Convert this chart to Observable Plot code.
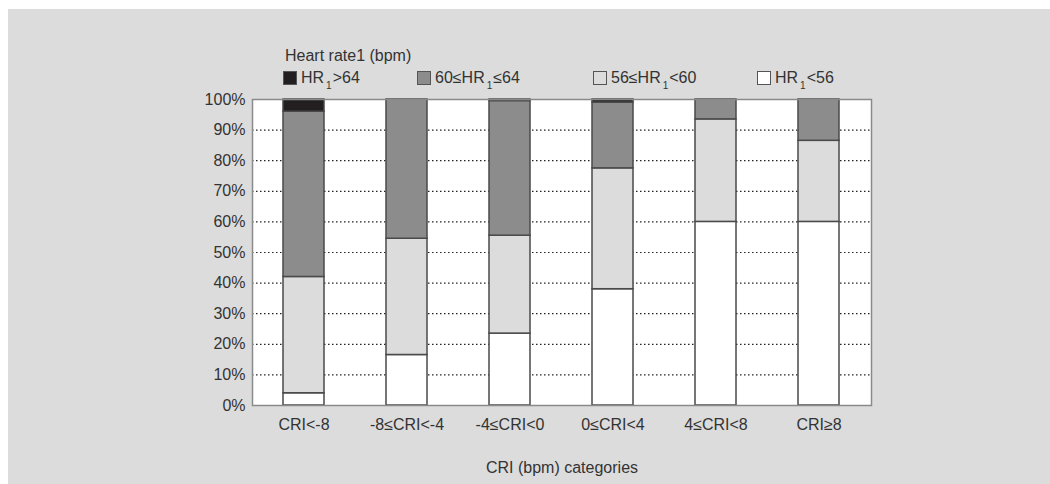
<!DOCTYPE html>
<html>
<head>
<meta charset="utf-8">
<script src="https://cdn.jsdelivr.net/npm/d3@7"></script>
<script src="https://cdn.jsdelivr.net/npm/@observablehq/plot@0.6"></script>
<style>
  html, body { margin: 0; padding: 0; background: #ffffff; }
  body { width: 1050px; height: 484px; position: relative; overflow: hidden;
         font-family: "Liberation Sans", Arial, sans-serif; color: #333; }
  #panel { position: absolute; left: 8px; top: 9px; width: 1042px; height: 475px; background: #dcdcdc; }
  #legend { position: relative; height: 81px; font-size: 16px; }
  #legend .title { position: absolute; left: 277px; top: 38px; line-height: 17px; white-space: nowrap; }
  #legend .item { position: absolute; top: 62px; height: 14px; line-height: 17px; white-space: nowrap; }
  #legend .swatch { position: absolute; left: 0; top: 0; width: 12px; height: 12px; border: 1px solid #555; }
  #legend .label { position: absolute; left: 18px; top: -2px; }
  #legend sub { font-size: 10px; vertical-align: -6px; line-height: 0; margin: 0 1px 0 2px; }
  #chart svg { display: block; }
</style>
</head>
<body>
<div id="panel">
  <div id="legend"></div>
  <div id="chart"></div>
</div>
<script>
// CRI categories along the x axis
const categories = ["CRI<-8", "-8≤CRI<-4", "-4≤CRI<0", "0≤CRI<4", "4≤CRI<8", "CRI≥8"];

// Heart-rate groups, listed from the bottom of each stack to the top
const groups = ["HR<56", "56≤HR<60", "60≤HR≤64", "HR>64"];
const groupColors = ["#ffffff", "#dcdcdc", "#8c8c8c", "#231f20"];

// Share of patients (%) in each heart-rate group, per CRI category
const hrUnder56 = [4, 16.5, 23.5, 38, 60, 60];
const hr56to60 = [38, 38, 32, 39.5, 33.5, 26.5];
const hr60to64 = [54, 45.5, 44, 21.5, 6.5, 13.5];
const hrOver64 = [4, 0, 0.5, 1, 0, 0];

const yTicks = [0, 10, 20, 30, 40, 50, 60, 70, 80, 90, 100];
const gridTicks = [10, 20, 30, 40, 50, 60, 70, 80, 90];
const legendTitle = "Heart rate1 (bpm)";
const xTitle = "CRI (bpm) categories";
// left offsets of the legend entries (top-to-bottom group order)
const legendLeft = [275, 409, 585, 749];

const seriesValues = [hrUnder56, hr56to60, hr60to64, hrOver64];
const rows = [];
groups.forEach((g, gi) => {
  categories.forEach((c, ci) => rows.push({category: c, group: g, value: seriesValues[gi][ci]}));
});

// Legend: highest group first, with the subscript "1" after HR
const legend = document.getElementById("legend");
const title = document.createElement("div");
title.className = "title";
title.textContent = legendTitle;
legend.appendChild(title);
const legendOrder = groups.map((g, i) => i).reverse();
legendOrder.forEach((gi, k) => {
  const item = document.createElement("div");
  item.className = "item";
  item.style.left = legendLeft[k] + "px";
  const sw = document.createElement("div");
  sw.className = "swatch";
  sw.style.background = groupColors[gi];
  item.appendChild(sw);
  const lab = document.createElement("div");
  lab.className = "label";
  const [pre, post] = groups[gi].split("HR");
  lab.append(pre + "HR");
  const sub = document.createElement("sub");
  sub.textContent = "1";
  lab.appendChild(sub);
  lab.append(post);
  item.appendChild(lab);
  legend.appendChild(item);
});

const font = "Liberation Sans, Arial, sans-serif";
const chart = Plot.plot({
  width: 1042,
  height: 394,
  marginTop: 9,
  marginBottom: 79,
  marginLeft: 244,
  marginRight: 179,
  style: {background: "transparent", fontFamily: font, fontSize: "16px", color: "#333"},
  x: {domain: categories, paddingInner: 0.6, paddingOuter: 0.3, label: null},
  y: {domain: [0, 100], label: null},
  color: {domain: groups, range: groupColors},
  marks: [
    Plot.frame({fill: "white", stroke: null}),
    Plot.ruleY(gridTicks, {stroke: "#222", strokeWidth: 1.2, strokeDasharray: "1.5,2.5"}),
    Plot.barY(rows, {
      x: "category", y: "value", fill: "group", order: groups,
      stroke: "#4a4a4a", strokeWidth: 1.5
    }),
    Plot.frame({stroke: "#8a8a8a", strokeWidth: 1.5}),
    Plot.axisY({ticks: yTicks, tickSize: 0, tickPadding: 7, tickFormat: d => d + "%", label: null, fontSize: 16}),
    Plot.axisX({tickSize: 0, tickPadding: 13, label: null, fontSize: 16}),
    Plot.text([xTitle], {frameAnchor: "bottom", dy: 67, text: d => d, fontSize: 16, fill: "#333"})
  ]
});
document.getElementById("chart").appendChild(chart);
</script>
</body>
</html>
